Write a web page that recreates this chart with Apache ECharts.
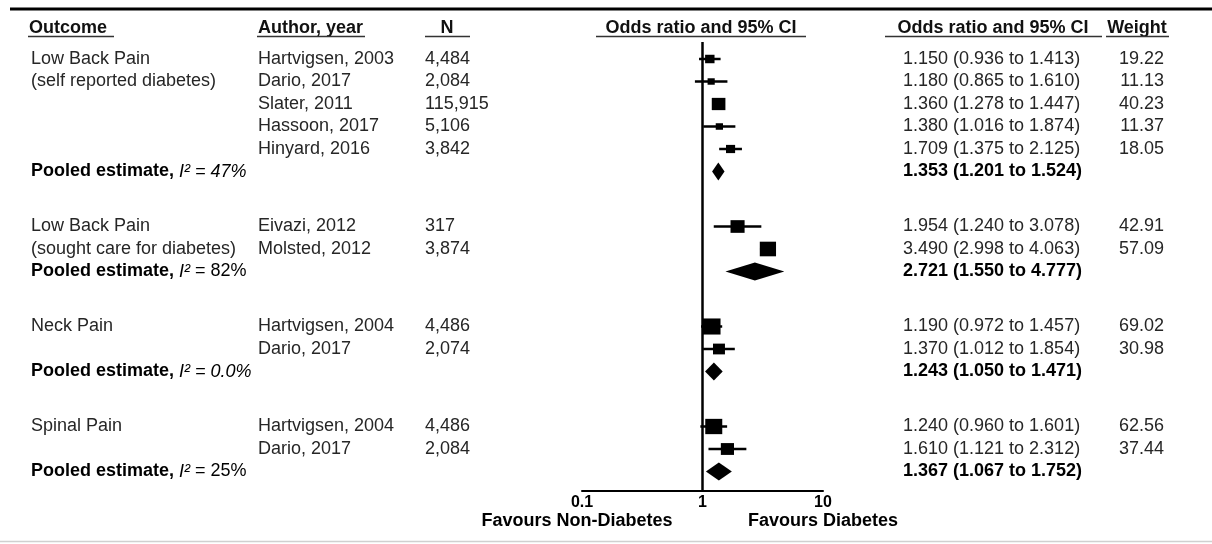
<!DOCTYPE html>
<html>
<head>
<meta charset="utf-8">
<script src="https://cdn.jsdelivr.net/npm/echarts@6/dist/echarts.min.js"></script>
<style>
html,body{margin:0;padding:0;background:#fff;}
#chart{width:1212px;height:544px;}
</style>
</head>
<body>
<div id="chart"></div>
<script>
// ---------------- DATA ----------------
const outcomeLabels = [
  ["Low Back Pain", "(self reported diabetes)"],
  ["Low Back Pain", "(sought care for diabetes)"],
  ["Neck Pain"],
  ["Spinal Pain"]
];
const studyGroup  = [0, 0, 0, 0, 0, 1, 1, 2, 2, 3, 3];
const authors     = ["Hartvigsen, 2003", "Dario, 2017", "Slater, 2011", "Hassoon, 2017", "Hinyard, 2016",
                     "Eivazi, 2012", "Molsted, 2012",
                     "Hartvigsen, 2004", "Dario, 2017",
                     "Hartvigsen, 2004", "Dario, 2017"];
const sampleSizes = ["4,484", "2,084", "115,915", "5,106", "3,842",
                     "317", "3,874",
                     "4,486", "2,074",
                     "4,486", "2,084"];
const oddsRatios  = [1.150, 1.180, 1.360, 1.380, 1.709, 1.954, 3.490, 1.190, 1.370, 1.240, 1.610];
const ciLower     = [0.936, 0.865, 1.278, 1.016, 1.375, 1.240, 2.998, 0.972, 1.012, 0.960, 1.121];
const ciUpper     = [1.413, 1.610, 1.447, 1.874, 2.125, 3.078, 4.063, 1.457, 1.854, 1.601, 2.312];
const weights     = [19.22, 11.13, 40.23, 11.37, 18.05, 42.91, 57.09, 69.02, 30.98, 62.56, 37.44];
const pooledOR    = [1.353, 2.721, 1.243, 1.367];
const pooledLower = [1.201, 1.550, 1.050, 1.067];
const pooledUpper = [1.524, 4.777, 1.471, 1.752];
const pooledI2    = ["47%", "82%", "0.0%", "25%"];
const xTickLabels = ["0.1", "1", "10"];

// ---------------- LAYOUT / STYLE ----------------
const FONT = "'Liberation Sans', Arial, Helvetica, sans-serif";
const ROW_TOP = 59, ROW_STEP = 22.5, GROUP_GAP = 55;
const I2_ITALIC = [true, false, true, false];
const COL = { outcome: 31, author: 258, n: 425, ci: 903, weight: 1164 };
const TEXT_SIZE = 18;
const TEXT_COLOR = '#262626';
const fmt = v => v.toFixed(3);
const pxToUnit = p => (p - ROW_TOP) / ROW_STEP;

// Build row layout (in row units)
const rows = [];
let u = 0;
for (let g = 0; g < outcomeLabels.length; g++) {
  if (g > 0) u += GROUP_GAP / ROW_STEP;
  const idx = studyGroup.map((gg, i) => gg === g ? i : -1).filter(i => i >= 0);
  idx.forEach((i, k) => { rows.push({ kind: 'study', i, g, k, u }); u += 1; });
  rows.push({ kind: 'pooled', g, u });
}

function txt(x, y, text, opt) {
  opt = opt || {};
  return {
    type: 'text',
    style: {
      x, y, text,
      fill: opt.color || TEXT_COLOR,
      fontSize: opt.size || TEXT_SIZE,
      fontFamily: FONT,
      fontWeight: opt.weight || 'normal',
      fontStyle: opt.style || 'normal',
      align: opt.align || 'left',
      verticalAlign: 'middle',
      rich: opt.rich
    }
  };
}

const chart = echarts.init(document.getElementById('chart'), null, { renderer: 'canvas' });

const textSeries = {
  type: 'custom',
  xAxisIndex: 0, yAxisIndex: 0,
  silent: true, clip: false,
  data: rows.map((r, ri) => [0, r.u, ri]),
  encode: { x: 0, y: 1 },
  renderItem: function (params, api) {
    const r = rows[api.value(2)];
    const y = api.coord([0, r.u])[1];
    const cx = c => api.coord([c, r.u])[0];
    const children = [];
    if (r.kind === 'study') {
      const lab = outcomeLabels[r.g][r.k];
      if (lab) children.push(txt(cx(COL.outcome), y, lab));
      children.push(txt(cx(COL.author), y, authors[r.i]));
      children.push(txt(cx(COL.n), y, sampleSizes[r.i]));
      children.push(txt(cx(COL.ci), y,
        fmt(oddsRatios[r.i]) + ' (' + fmt(ciLower[r.i]) + ' to ' + fmt(ciUpper[r.i]) + ')'));
      children.push(txt(cx(COL.weight), y, weights[r.i].toFixed(2), { align: 'right' }));
    } else {
      const g = r.g;
      const tail = I2_ITALIC[g] ? '{i| = ' + pooledI2[g] + '}' : '{n| = ' + pooledI2[g] + '}';
      children.push(txt(cx(COL.outcome), y, '{b|Pooled estimate, }{i|I²}' + tail, {
        rich: {
          b: { fontWeight: 'bold', fontSize: TEXT_SIZE, fontFamily: FONT, fill: '#000' },
          i: { fontStyle: 'italic', fontSize: TEXT_SIZE, fontFamily: FONT, fill: '#000' },
          n: { fontSize: TEXT_SIZE, fontFamily: FONT, fill: '#000' }
        }
      }));
      children.push(txt(cx(COL.ci), y,
        fmt(pooledOR[g]) + ' (' + fmt(pooledLower[g]) + ' to ' + fmt(pooledUpper[g]) + ')',
        { weight: 'bold', color: '#000' }));
    }
    return { type: 'group', children };
  }
};

const forestSeries = {
  type: 'custom',
  xAxisIndex: 1, yAxisIndex: 1,
  silent: true, clip: false,
  data: rows.map((r, ri) => r.kind === 'study'
    ? [oddsRatios[r.i], r.u, ciLower[r.i], ciUpper[r.i], ri]
    : [pooledOR[r.g], r.u, pooledLower[r.g], pooledUpper[r.g], ri]),
  encode: { x: 0, y: 1 },
  renderItem: function (params, api) {
    const r = rows[api.value(4)];
    const pe = api.coord([api.value(0), api.value(1)]);
    const xl = api.coord([api.value(2), api.value(1)])[0];
    const xh = api.coord([api.value(3), api.value(1)])[0];
    const y = pe[1];
    if (r.kind === 'study') {
      const s = 2.15 * Math.sqrt(weights[r.i]);
      return {
        type: 'group',
        children: [
          { type: 'line', shape: { x1: xl, y1: y, x2: xh, y2: y }, style: { stroke: '#000', lineWidth: 2.5 } },
          { type: 'rect', shape: { x: pe[0] - s / 2, y: y - s * 0.45, width: s, height: s * 0.9 }, style: { fill: '#000' } }
        ]
      };
    }
    const h = 9;
    return {
      type: 'polygon',
      shape: { points: [[xl, y], [pe[0], y - h], [xh, y], [pe[0], y + h]] },
      style: { fill: '#000' }
    };
  }
};

const refLine = {
  type: 'line',
  xAxisIndex: 1, yAxisIndex: 1,
  silent: true, symbol: 'none',
  lineStyle: { color: '#000', width: 2.5 },
  data: [[1, pxToUnit(42)], [1, pxToUnit(491)]],
  z: 1
};

const hdr = (x, text, align) => ({
  type: 'text', x, y: 28,
  style: { text, fill: '#111', font: 'bold 18px ' + FONT, textAlign: align || 'left', textVerticalAlign: 'middle' }
});
const uline = (x1, x2) => ({
  type: 'line', shape: { x1, y1: 36.5, x2, y2: 36.5 }, style: { stroke: '#333', lineWidth: 1.5 }
});

chart.setOption({
  animation: false,
  backgroundColor: '#fff',
  grid: [
    { left: 0, top: 0, width: 1212, height: 544, containLabel: false },
    { left: 582, top: 42, width: 241, height: 449, containLabel: false }
  ],
  xAxis: [
    { type: 'value', gridIndex: 0, min: 0, max: 1212, show: false },
    {
      type: 'log', gridIndex: 1, logBase: 10, min: 0.1, max: 10, position: 'bottom',
      axisLine: { show: true, onZero: false, lineStyle: { color: '#000', width: 2 } },
      axisTick: { show: false },
      splitLine: { show: false },
      minorTick: { show: false },
      axisLabel: {
        show: true, color: '#000', fontWeight: 'bold', fontSize: 16, fontFamily: FONT, margin: 4,
        formatter: v => xTickLabels[Math.round(Math.log10(v)) + 1] || ''
      }
    }
  ],
  yAxis: [
    { type: 'value', gridIndex: 0, inverse: true, min: pxToUnit(0), max: pxToUnit(544), show: false },
    { type: 'value', gridIndex: 1, inverse: true, min: pxToUnit(42), max: pxToUnit(491), show: false }
  ],
  graphic: [
    { type: 'line', shape: { x1: 10, y1: 9, x2: 1212, y2: 9 }, style: { stroke: '#000', lineWidth: 3 } },
    { type: 'line', shape: { x1: 0, y1: 541.5, x2: 1212, y2: 541.5 }, style: { stroke: '#d0d0d0', lineWidth: 1.5 } },
    hdr(29, 'Outcome'), uline(28, 114),
    hdr(258, 'Author, year'), uline(257, 365),
    hdr(447, 'N', 'center'), uline(425, 470),
    hdr(701, 'Odds ratio and 95% CI', 'center'), uline(596, 806),
    hdr(993, 'Odds ratio and 95% CI', 'center'), uline(885, 1102),
    hdr(1137, 'Weight', 'center'), uline(1106, 1169),
    { type: 'text', x: 577, y: 521, style: { text: 'Favours Non-Diabetes', fill: '#000', font: 'bold 18px ' + FONT, textAlign: 'center', textVerticalAlign: 'middle' } },
    { type: 'text', x: 823, y: 521, style: { text: 'Favours Diabetes', fill: '#000', font: 'bold 18px ' + FONT, textAlign: 'center', textVerticalAlign: 'middle' } }
  ],
  series: [refLine, forestSeries, textSeries]
});
</script>
</body>
</html>
